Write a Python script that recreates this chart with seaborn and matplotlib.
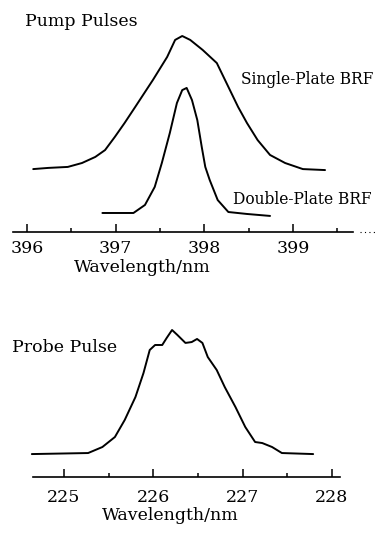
import matplotlib
matplotlib.use("Agg")
import matplotlib.pyplot as plt
import seaborn as sns
import pandas as pd

# Pump pulse spectra (relative intensity vs wavelength in nm)
single_wl = [396.07, 396.24, 396.46, 396.62, 396.77, 396.88, 396.99, 397.10, 397.22,
             397.33, 397.42, 397.58, 397.67, 397.75, 397.84, 397.98, 398.14, 398.26,
             398.38, 398.48, 398.60, 398.74, 398.91, 399.11, 399.36]
single_int = [0.321, 0.327, 0.332, 0.352, 0.383, 0.418, 0.485, 0.556, 0.638,
              0.714, 0.776, 0.893, 0.980, 1.000, 0.980, 0.929, 0.862, 0.750,
              0.638, 0.556, 0.469, 0.393, 0.352, 0.321, 0.316]

double_wl = [396.85, 397.20, 397.33, 397.44, 397.52, 397.61, 397.69, 397.75, 397.80,
             397.86, 397.92, 397.97, 398.01, 398.06, 398.15, 398.27, 398.48, 398.74]
double_int = [0.097, 0.097, 0.138, 0.230, 0.352, 0.505, 0.658, 0.724, 0.735,
              0.673, 0.571, 0.434, 0.332, 0.265, 0.163, 0.102, 0.092, 0.082]

# Probe pulse spectrum
probe_wl = [224.64, 225.27, 225.43, 225.57, 225.68, 225.80, 225.89, 225.96, 226.02,
            226.10, 226.15, 226.21, 226.27, 226.36, 226.43, 226.49, 226.55, 226.61,
            226.71, 226.80, 226.92, 227.03, 227.14, 227.22, 227.33, 227.44, 227.79]
probe_int = [0.156, 0.163, 0.204, 0.272, 0.388, 0.544, 0.707, 0.864, 0.898,
             0.898, 0.946, 1.000, 0.966, 0.912, 0.918, 0.939, 0.912, 0.816,
             0.728, 0.612, 0.476, 0.340, 0.238, 0.231, 0.204, 0.163, 0.156]

pump_ticks = [396, 397, 398, 399]
pump_minor = [396.5, 397.5, 398.5, 399.5]
probe_ticks = [225, 226, 227, 228]
probe_minor = [225.5, 226.5, 227.5]

sns.set_theme(style="white")
plt.rcParams["font.family"] = ["DejaVu Serif"]

W, H = 387, 534
fig = plt.figure(figsize=(W / 100, H / 100), dpi=100)


def fy(py):
    return 1 - py / H


def style_axis(ax, major, minor, bounds, pad):
    for s in ["left", "right", "top"]:
        ax.spines[s].set_visible(False)
    ax.spines["bottom"].set_bounds(*bounds)
    ax.spines["bottom"].set_linewidth(1.2)
    ax.spines["bottom"].set_color("black")
    ax.set_yticks([])
    ax.set_xticks(major)
    ax.set_xticks(minor, minor=True)
    ax.set_xticklabels([str(t) for t in major])
    ax.tick_params(axis="x", which="major", direction="in", length=6, width=1.1,
                   color="black", labelsize=12.5, pad=pad, labelcolor="black",
                   bottom=True)
    ax.tick_params(axis="x", which="minor", direction="in", length=3, width=1.1,
                   color="black", bottom=True)
    ax.set_xlabel("")
    ax.set_ylabel("")
    ax.grid(False)
    ax.patch.set_alpha(0)


# Pump panel
ax1 = fig.add_axes([0, fy(232), 1, 212 / H])
pump_single = pd.DataFrame({"wl": single_wl, "I": single_int})
pump_double = pd.DataFrame({"wl": double_wl, "I": double_int})
sns.lineplot(data=pump_single, x="wl", y="I", ax=ax1, color="black", lw=1.4, sort=False)
sns.lineplot(data=pump_double, x="wl", y="I", ax=ax1, color="black", lw=1.4, sort=False)
ax1.set_xlim(396 - 27 / 88.7, 396 + 360 / 88.7)
ax1.set_ylim(0, 212 / 196)
style_axis(ax1, pump_ticks, pump_minor, (395.84, 399.68), 6)
ax1.plot([399.75, 399.95], [0, 0], color="black", lw=0.8, ls=(0, (1, 3)), clip_on=False)

# Probe panel
ax2 = fig.add_axes([0, fy(477), 1, 160 / H])
probe = pd.DataFrame({"wl": probe_wl, "I": probe_int})
sns.lineplot(data=probe, x="wl", y="I", ax=ax2, color="black", lw=1.4, sort=False)
ax2.set_xlim(225 - 64 / 89.3, 225 + 323 / 89.3)
ax2.set_ylim(0, 160 / 147)
style_axis(ax2, probe_ticks, probe_minor, (224.65, 228.09), 9)

txt = dict(fontsize=12.5, color="black", va="center")
small = dict(fontsize=11.2, color="black", va="center")
fig.text(25 / W, fy(22), "Pump Pulses", ha="left", **txt)
fig.text(241 / W, fy(80), "Single-Plate BRF", ha="left", **small)
fig.text(233 / W, fy(200), "Double-Plate BRF", ha="left", **small)
fig.text(142 / W, fy(268), "Wavelength/nm", ha="center", **txt)
fig.text(12 / W, fy(347), "Probe Pulse", ha="left", **txt)
fig.text(170 / W, fy(516), "Wavelength/nm", ha="center", **txt)

fig.savefig("out.png", dpi=100, facecolor="white")
